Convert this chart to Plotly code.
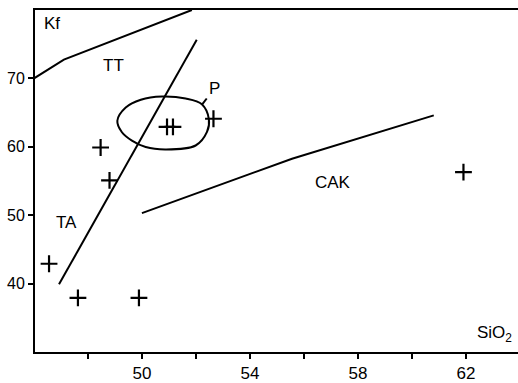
import plotly.graph_objects as go

# Sample analyses: SiO2 (wt%) vs Kf
sio2 = [48.47, 48.80, 50.93, 51.15, 52.65, 46.56, 47.63, 49.89, 61.91]
kf = [59.9, 55.1, 62.9, 62.9, 64.1, 42.9, 37.9, 37.9, 56.3]

# Field boundaries
kf_bound_x = [46.0, 47.11, 51.85]
kf_bound_y = [70.0, 72.75, 80.0]
ta_bound_x = [46.93, 52.03]
ta_bound_y = [39.9, 75.65]
cak_bound_x = [50.0, 55.56, 60.81]
cak_bound_y = [50.3, 58.26, 64.6]

# Outline of field P
p_field_x = [49.09, 49.40, 49.96, 50.74, 51.62, 52.22, 52.48, 52.41,
             51.99, 50.88, 50.14, 49.63, 49.26, 49.09]
p_field_y = [63.81, 65.75, 66.88, 67.35, 67.06, 66.23, 64.06, 62.17,
             60.19, 59.61, 59.96, 60.91, 62.13, 63.81]
p_leader_x = [52.24, 52.40]
p_leader_y = [66.23, 67.06]

# Field names
field_names = ["Kf", "TT", "TA", "CAK", "P"]
field_pos = [(46.67, 77.97), (48.94, 71.88), (47.19, 48.88), (57.07, 54.78), (52.69, 68.55)]

x_tickvals = [50, 54, 58, 62]
x_ticktext = ["50", "54", "58", "62"]
x_minor_vals = [48, 52, 56, 60]
y_tickvals = [40, 50, 60, 70]
y_ticktext = ["40", "50", "60", "70"]

font = "Liberation Sans, Arial, sans-serif"
line_style = dict(color="black", width=2)

fig = go.Figure()
for bx, by in [(kf_bound_x, kf_bound_y), (ta_bound_x, ta_bound_y),
               (cak_bound_x, cak_bound_y), (p_leader_x, p_leader_y)]:
    fig.add_trace(go.Scatter(x=bx, y=by, mode="lines", line=line_style,
                             hoverinfo="skip", showlegend=False))

fig.add_trace(go.Scatter(x=p_field_x, y=p_field_y, mode="lines",
                         line=dict(color="black", width=2, shape="spline", smoothing=1.0),
                         hoverinfo="skip", showlegend=False))

fig.add_trace(go.Scatter(x=sio2, y=kf, mode="markers",
                         marker=dict(symbol="cross-thin", size=12,
                                     line=dict(color="black", width=2.2)),
                         showlegend=False))

for name, (px, py) in zip(field_names, field_pos):
    fig.add_annotation(x=px, y=py, xref="x", yref="y", text=name, showarrow=False,
                       font=dict(family=font, size=17, color="black"))

fig.add_annotation(x=63.8, y=32.6, xref="x", yref="y", text="SiO<sub>2</sub>",
                   showarrow=False, xanchor="right",
                   font=dict(family=font, size=17, color="black"))

fig.update_layout(
    width=518, height=383,
    margin=dict(l=35, r=0, t=10, b=28),
    paper_bgcolor="white", plot_bgcolor="white",
    font=dict(family=font, color="black"),
    xaxis=dict(range=[46.04, 63.93], tickvals=x_tickvals, ticktext=x_ticktext,
               showgrid=False, zeroline=False, showline=True, linecolor="black",
               linewidth=2, mirror=True, ticks="outside", ticklen=5, tickwidth=2,
               tickcolor="black", tickfont=dict(size=17, family=font),
               minor=dict(tickvals=x_minor_vals, ticks="outside", ticklen=5,
                          tickwidth=2, tickcolor="black", showgrid=False)),
    yaxis=dict(range=[30, 80], tickvals=y_tickvals, ticktext=y_ticktext,
               showgrid=False, zeroline=False, showline=True, linecolor="black",
               linewidth=2, ticks="outside", ticklen=5, tickwidth=1.5,
               tickcolor="black", tickfont=dict(size=16, family=font)),
)

fig.write_html("out.html")
